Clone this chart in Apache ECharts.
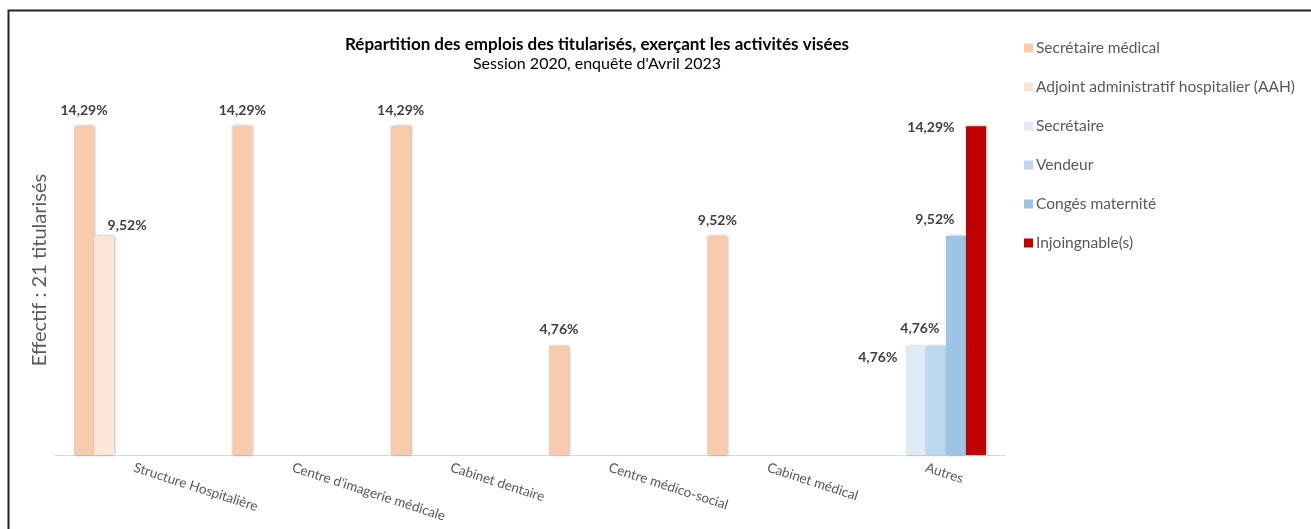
<!doctype html>
<html>
<head>
    <meta charset="utf-8">
    <title>Répartition des emplois des titularisés</title>
    <style>
        html, body { margin: 0; padding: 0; background: #fff; }
        #main { width: 1311px; height: 529px; }
    </style>
</head>
<body>
    <div id="main"></div>
</body>
<script src="https://cdn.jsdelivr.net/npm/echarts@6/dist/echarts.min.js"></script>
<script type="text/javascript">
    // catégories (axe x)
    var categories = ['Structure Hospitalière', "Centre d'imagerie médicale", 'Cabinet dentaire',
        'Centre médico-social', 'Cabinet médical', 'Autres'];
    // séries, en %
    var seriesNames = ['Secrétaire médical', 'Adjoint administratif hospitalier (AAH)', 'Secrétaire',
        'Vendeur', 'Congés maternité', 'Injoingnable(s)'];
    var secretaireMedical = [14.29, 14.29, 14.29, 4.76, 9.52, null];
    var aah = [9.52, null, null, null, null, null];
    var secretaire = [null, null, null, null, null, 4.76];
    var vendeur = [null, null, null, null, null, 4.76];
    var conges = [null, null, null, null, null, 9.52];
    var injoignable = [null, null, null, null, null, 14.29];

    var allValues = [secretaireMedical, aah, secretaire, vendeur, conges, injoignable];
    var colors = ['#F8CBAD', '#FBE5D6', '#DEEBF7', '#BDD7EE', '#9DC3E6', '#C00000'];

    // étiquettes déplacées à la main (comme dans Excel) : [série, catégorie, dx, dy]
    var moved = [[1, 0, 23, 5], [2, 5, -38, 28], [3, 5, -16, -1], [4, 5, -21, -1], [5, 5, -45, 17]];

    function fmt(v) {
        return v.toFixed(2).replace('.', ',') + '%';
    }

    var series = [];
    for (var s = 0; s < allValues.length; s++) {
        var data = [];
        for (var c = 0; c < allValues[s].length; c++) {
            var item = { value: allValues[s][c] };
            for (var m = 0; m < moved.length; m++) {
                if (moved[m][0] == s && moved[m][1] == c) {
                    item.label = { offset: [moved[m][2], moved[m][3]] };
                }
            }
            data.push(item);
        }
        series.push({
            name: seriesNames[s],
            type: 'bar',
            data: data,
            barGap: '0%',
            barCategoryGap: '24%',
            itemStyle: {
                color: colors[s],
                shadowColor: 'rgba(0,0,0,0.35)',
                shadowBlur: 3,
                shadowOffsetX: 1
            },
            label: {
                show: true,
                position: 'top',
                distance: 9,
                fontFamily: 'Lato',
                fontSize: 14,
                fontWeight: 'bold',
                color: '#404040',
                formatter: function (p) { return fmt(p.value); }
            }
        });
    }

    var myChart = echarts.init(document.getElementById('main'));
    option = {
        animation: false,
        color: colors,
        title: {
            text: 'Répartition des emplois des titularisés, exerçant les activités visées',
            subtext: "Session 2020, enquête d'Avril 2023",
            left: 592,
            textAlign: 'center',
            top: 31,
            itemGap: 3,
            textStyle: { fontFamily: 'Lato', fontSize: 17, fontWeight: 'bold', color: '#000' },
            subtextStyle: { fontFamily: 'Lato', fontSize: 16, color: '#000' }
        },
        legend: {
            orient: 'vertical',
            left: 1024,
            top: 40,
            padding: 0,
            itemWidth: 9,
            itemHeight: 9,
            itemGap: 23,
            icon: 'rect',
            textStyle: { fontFamily: 'Lato', fontSize: 15.5, color: '#595959', padding: [0, 0, 0, -2] },
            data: seriesNames
        },
        grid: { left: 55, right: 306, top: 87, bottom: 74 },
        xAxis: {
            type: 'category',
            data: categories,
            axisLine: { lineStyle: { color: '#D9D9D9', width: 1 } },
            axisTick: { show: false },
            axisLabel: {
                rotate: -18,
                margin: 12,
                interval: 0,
                fontFamily: 'Lato',
                fontSize: 13.5,
                color: '#595959'
            }
        },
        yAxis: {
            type: 'value',
            min: 0,
            max: 16,
            axisLine: { show: false },
            axisTick: { show: false },
            axisLabel: { show: false },
            splitLine: { show: false }
        },
        graphic: [
            {
                type: 'text',
                x: 40,
                y: 270,
                rotation: Math.PI / 2,
                style: {
                    text: 'Effectif : 21 titularisés',
                    fontFamily: 'Lato',
                    fontSize: 20,
                    fill: '#595959',
                    align: 'center',
                    verticalAlign: 'middle'
                }
            },
            {
                type: 'rect',
                shape: { x: 8.5, y: 10.5, width: 1400, height: 600 },
                style: { fill: 'none', stroke: '#222', lineWidth: 2 },
                silent: true
            }
        ],
        series: series
    };
    myChart.setOption(option);
</script>
</html>
